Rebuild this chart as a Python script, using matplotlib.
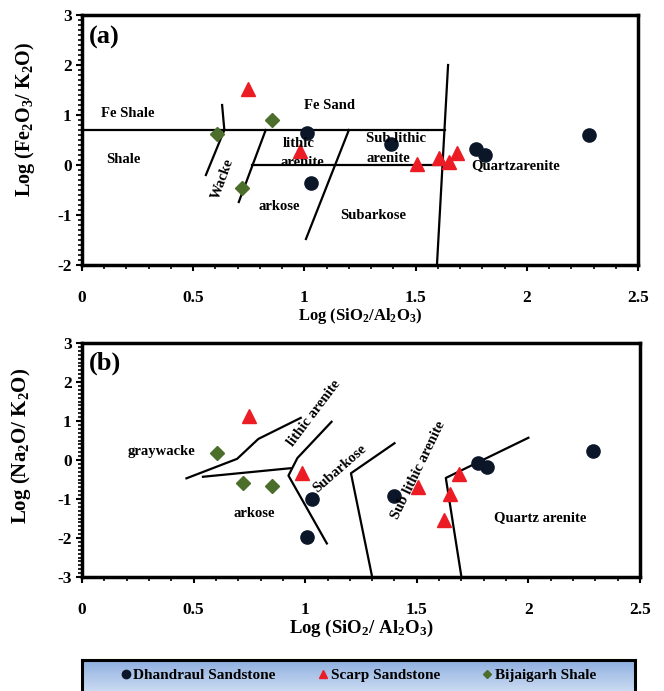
"""
SiO2/Al2O3 geochemical classification plots
(a) Herron (1988) Fe2O3/K2O vs SiO2/Al2O3
(b) Pettijohn et al. (1972) Na2O/K2O vs SiO2/Al2O3
"""

import numpy as np
import matplotlib
matplotlib.use('Agg')
import matplotlib.pyplot as plt
from matplotlib.lines import Line2D

plt.rcParams['font.family'] = 'Liberation Serif'
plt.rcParams['font.weight'] = 'bold'
plt.rcParams['mathtext.fontset'] = 'custom'
plt.rcParams['mathtext.rm'] = 'Liberation Serif:bold'
plt.rcParams['mathtext.default'] = 'rm'
plt.rcParams['axes.unicode_minus'] = False

#-------------------------------------
# sample data
#-------------------------------------
# Dhandraul Sandstone
dh_si = [1.01, 1.03, 1.39, 1.77, 1.81, 2.28]
dh_fe = [0.65, -0.35, 0.42, 0.33, 0.20, 0.61]
dh_si_b = [1.03, 1.01, 1.40, 1.776, 1.815, 2.29]
dh_na = [-1.0, -1.98, -0.93, -0.07, -0.18, 0.22]

# Scarp Sandstone
sc_si = [0.747, 0.98, 1.507, 1.605, 1.65, 1.687]
sc_fe = [1.52, 0.28, 0.02, 0.15, 0.07, 0.24]
sc_si_b = [0.747, 0.984, 1.507, 1.62, 1.65, 1.69]
sc_na = [1.12, -0.34, -0.70, -1.53, -0.88, -0.36]

# Bijaigarh Shale
bj_si = [0.605, 0.855, 0.72]
bj_fe = [0.63, 0.90, -0.46]
bj_si_b = [0.603, 0.72, 0.853]
bj_na = [0.17, -0.59, -0.67]

#-------------------------------------
# field boundaries
#-------------------------------------
# panel (a)
a_lines = [
    ([0.0, 1.63], [0.7, 0.7]),
    ([0.765, 1.63], [0.0, 0.0]),
    ([1.596, 1.646], [-2.0, 2.0]),
    ([0.63, 0.64, 0.557], [1.2, 0.7, -0.2]),
    ([0.826, 0.705], [0.7, -0.74]),
    ([1.20, 1.007], [0.7, -1.48]),
]
# panel (b)
b_lines = [
    ([0.468, 0.695, 0.79, 0.98], [-0.47, 0.03, 0.54, 1.08]),
    ([0.542, 0.935], [-0.43, -0.21]),
    ([1.118, 0.965, 0.925, 1.097], [0.98, 0.05, -0.40, -2.14]),
    ([1.40, 1.205, 1.30], [0.43, -0.34, -3.0]),
    ([2.0, 1.63, 1.70], [0.57, -0.46, -3.0]),
]

c_dh = '#0b1629'
c_sc = '#ec1c24'
c_bj = '#4b6e2b'

fig = plt.figure(figsize=(6.64, 6.91), dpi=100)
axa = fig.add_axes([82/664, 1-265/691, 556/664, 250/691])
axb = fig.add_axes([82/664, 1-577/691, 558/664, 234/691])


def style_axes(ax, ymin, ymax):
    ax.set_xlim(0, 2.5)
    ax.set_ylim(ymin, ymax)
    ax.set_xticks(np.arange(0, 2.51, 0.5))
    ax.set_xticklabels(['0', '0.5', '1', '1.5', '2', '2.5'])
    ax.set_xticks(np.arange(0, 2.51, 0.1), minor=True)
    ax.set_yticks(np.arange(ymin, ymax + 0.01, 1))
    ax.set_yticks(np.arange(ymin, ymax + 0.01, 0.1), minor=True)
    ax.tick_params(axis='both', which='major', direction='out', length=4,
                   width=1.5, labelsize=12.5)
    ax.tick_params(axis='both', which='minor', direction='out', length=3,
                   width=1.2)
    ax.tick_params(axis='x', pad=14)
    for s in ax.spines.values():
        s.set_linewidth(2.5)
    for lab in ax.get_xticklabels() + ax.get_yticklabels():
        lab.set_fontweight('bold')


fs = 10.5

#-----panel (a)-----
style_axes(axa, -2, 3)
for xs, ys in a_lines:
    axa.plot(xs, ys, color='black', lw=1.6)
axa.plot(dh_si, dh_fe, 'o', color=c_dh, ms=9.5, ls='none')
axa.plot(sc_si, sc_fe, '^', color=c_sc, ms=9.5, ls='none')
axa.plot(bj_si, bj_fe, 'D', color=c_bj, ms=7, ls='none')

axa.text(0.03, 2.55, '(a)', fontsize=19, fontweight='bold', va='center')
axa.text(0.205, 1.04, 'Fe Shale', fontsize=fs, ha='center', va='center')
axa.text(0.185, 0.12, 'Shale', fontsize=fs, ha='center', va='center')
axa.text(0.635, -0.27, 'Wacke', fontsize=fs, ha='center', va='center',
         rotation=70)
axa.text(0.975, 0.44, 'lithic', fontsize=fs, ha='center', va='center')
axa.text(0.99, 0.06, 'arenite', fontsize=fs, ha='center', va='center')
axa.text(0.886, -0.82, 'arkose', fontsize=fs, ha='center', va='center')
axa.text(1.115, 1.2, 'Fe Sand', fontsize=fs, ha='center', va='center')
axa.text(1.277, 0.54, 'Sub lithic', fontsize=fs, ha='left', va='center')
axa.text(1.277, 0.14, 'arenite', fontsize=fs, ha='left', va='center')
axa.text(1.31, -1.0, 'Subarkose', fontsize=fs, ha='center', va='center')
axa.text(1.95, -0.02, 'Quartzarenite', fontsize=fs, ha='center', va='center')

axa.set_ylabel('Log (Fe$_2$O$_3$/ K$_2$O)', fontsize=14.5, fontweight='bold')
axa.yaxis.set_label_coords(-0.081, 0.58)
axa.set_xlabel('Log (SiO$_2$/Al$_2$O$_3$)', fontsize=12, fontweight='bold',
               labelpad=0)

#-----panel (b)-----
style_axes(axb, -3, 3)
for xs, ys in b_lines:
    axb.plot(xs, ys, color='black', lw=1.6)
axb.plot(dh_si_b, dh_na, 'o', color=c_dh, ms=9.5, ls='none')
axb.plot(sc_si_b, sc_na, '^', color=c_sc, ms=9.5, ls='none')
axb.plot(bj_si_b, bj_na, 'D', color=c_bj, ms=7, ls='none')

axb.text(0.03, 2.47, '(b)', fontsize=19, fontweight='bold', va='center')
axb.text(0.355, 0.22, 'graywacke', fontsize=fs, ha='center', va='center')
axb.text(0.77, -1.37, 'arkose', fontsize=fs, ha='center', va='center')
axb.text(1.04, 1.2, 'lithic arenite', fontsize=fs, ha='center', va='center',
         rotation=53)
axb.text(1.156, -0.22, 'Subarkose', fontsize=fs, ha='center', va='center',
         rotation=41)
axb.text(1.505, -0.27, 'Sub lithic arenite', fontsize=fs, ha='center',
         va='center', rotation=64)
axb.text(2.055, -1.47, 'Quartz arenite', fontsize=fs, ha='center', va='center')

axb.set_ylabel('Log (Na$_2$O/ K$_2$O)', fontsize=15, fontweight='bold')
axb.yaxis.set_label_coords(-0.088, 0.56)
axb.set_xlabel('Log (SiO$_2$/ Al$_2$O$_3$)', fontsize=13.5, fontweight='bold',
               labelpad=0)

#-----legend box with blue gradient-----
axl = fig.add_axes([82/664, -0.02, 553/664, 31/691 + 0.02])
grad = np.linspace(0, 1, 100).reshape(-1, 1)
cmap = matplotlib.colors.LinearSegmentedColormap.from_list(
    'lg', ['#e6eefa', '#8eafe0'])
axl.imshow(grad, aspect='auto', cmap=cmap, extent=[0, 1, 0, 1],
           origin='lower')
axl.set_xticks([])
axl.set_yticks([])
for s in axl.spines.values():
    s.set_linewidth(2.2)
handles = [
    Line2D([], [], marker='o', color=c_dh, ls='none', ms=6,
           label='Dhandraul Sandstone'),
    Line2D([], [], marker='^', color=c_sc, ls='none', ms=6,
           label='Scarp Sandstone'),
    Line2D([], [], marker='D', color=c_bj, ls='none', ms=4,
           label='Bijaigarh Shale'),
]
axl.legend(handles=handles, ncol=3, frameon=False, loc='center',
           bbox_to_anchor=(0.5, 0.66), handlelength=0.6, handletextpad=0.2,
           columnspacing=2.8, prop={'family': 'Liberation Serif',
                                    'weight': 'bold', 'size': 11})

fig.savefig('out.png', dpi=100)
